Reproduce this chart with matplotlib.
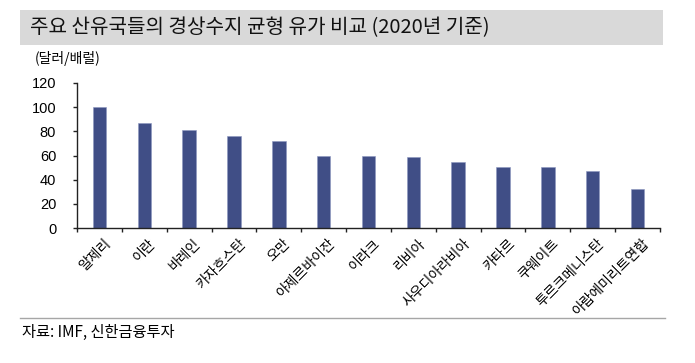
import matplotlib.pyplot as plt
import numpy as np
from matplotlib.patches import Rectangle
from matplotlib.lines import Line2D

plt.rcParams['font.family'] = ['Noto Sans CJK KR', 'DejaVu Sans']

# 국가별 경상수지 균형 유가 (달러/배럴)
countries = ['알제리', '이란', '바레인', '카자흐스탄', '오만', '아제르바이잔', '이라크',
             '리비아', '사우디아라비아', '카타르', '쿠웨이트', '투르크메니스탄', '아랍에미리트연합']
prices = [100, 87, 81, 76.5, 72, 60, 60, 59, 55, 50.5, 50.5, 47, 32.5]
yticks = [0, 20, 40, 60, 80, 100, 120]

bar_color = '#404E86'

fig = plt.figure(figsize=(6.95, 3.63), dpi=100)

# 제목 배경
fig.patches.append(Rectangle((20 / 695, 1 - 45 / 363), 643 / 695, 35 / 363,
                             transform=fig.transFigure, facecolor='#D9D9D9',
                             edgecolor='none', zorder=0))
fig.text(30 / 695, 1 - 28 / 363, '주요 산유국들의 경상수지 균형 유가 비교 (2020년 기준)',
         fontsize=14.5, fontweight='medium', va='center', ha='left', color='#111111')
fig.text(35 / 695, 1 - 58 / 363, '(달러/배럴)', fontsize=10, va='center', ha='left')

ax = fig.add_axes([77 / 695, 1 - 228 / 363, 583 / 695, 145 / 363])
x = np.arange(len(countries))
ax.bar(x, prices, width=0.3, color=bar_color, edgecolor='#8C96C0', linewidth=0.4, zorder=2)

ax.set_ylim(0, 120)
ax.set_xlim(-0.5, len(countries) - 0.5)
ax.set_yticks(yticks)
ax.set_yticklabels([str(v) for v in yticks], fontsize=10.5, family=['Liberation Sans'])
ax.tick_params(axis='y', direction='out', length=3, width=1, pad=12, color='#222222')

ax.set_xticks(x + 0.1)
ax.set_xticklabels(countries, rotation=45, ha='right', rotation_mode='anchor', fontsize=10)
ax.tick_params(axis='x', which='major', length=0, pad=6)
ax.set_xticks(np.arange(-0.5, len(countries), 1.0), minor=True)
ax.tick_params(axis='x', which='minor', direction='out', length=3, width=1, color='#222222')

for s in ['top', 'right']:
    ax.spines[s].set_visible(False)
for s in ['left', 'bottom']:
    ax.spines[s].set_color('#222222')
    ax.spines[s].set_linewidth(1)

# 하단 출처
fig.lines.append(Line2D([20 / 695, 665 / 695], [1 - 318 / 363, 1 - 318 / 363],
                        transform=fig.transFigure, color='#A6A6A6', linewidth=1))
fig.text(22 / 695, 1 - 332 / 363, '자료: IMF, 신한금융투자', fontsize=11, va='center', ha='left')

fig.savefig('out.png', dpi=100)
